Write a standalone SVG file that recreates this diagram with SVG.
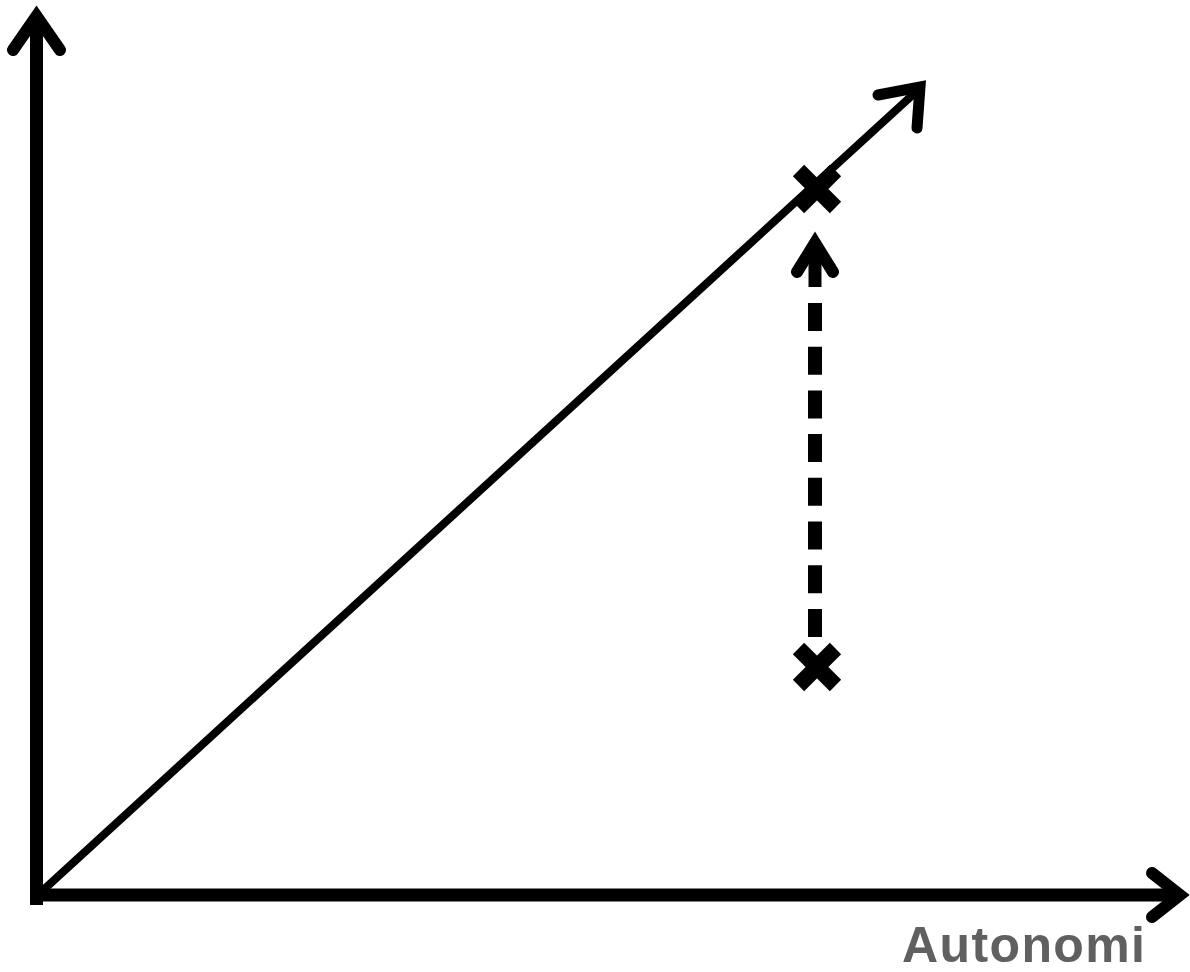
<svg xmlns="http://www.w3.org/2000/svg" width="1190" height="972" viewBox="0 0 1190 972">
<style>
.ax{stroke:#000;stroke-width:13;fill:none}
.head{stroke:#000;stroke-width:12;fill:none;stroke-linecap:round;stroke-linejoin:miter}
.diag{stroke:#000;stroke-width:8;fill:none}
.cross{stroke:#000;stroke-width:16;fill:none;stroke-linecap:butt}
.lbl{font-family:"Liberation Sans",Arial,sans-serif;font-weight:bold;font-size:50px;fill:#606060}
</style>
<rect width="1190" height="972" fill="#fff"/>
<g id="connectors">
<g id="y-axis">
<line class="ax" x1="36.5" y1="18" x2="36.5" y2="905"/>
<path class="head" d="M13,50 L36.5,16 L60,50"/>
</g>
<g id="x-axis">
<line class="ax" x1="30" y1="895" x2="1178" y2="895"/>
<path class="head" d="M1152,873 L1180,895 L1152,917"/>
</g>
<g id="diagonal">
<line class="diag" x1="40" y1="893" x2="918" y2="90"/>
<path class="head" style="stroke-width:11" d="M878,95 L920,87 L917,128"/>
</g>
<g id="dashed-arrow">
<line x1="815" y1="303" x2="815" y2="637" stroke="#000" stroke-width="14" stroke-dasharray="28 15.7"/>
<line x1="815" y1="246" x2="815" y2="287" stroke="#000" stroke-width="13"/>
<path class="head" d="M797,272 L815,243 L833,272"/>
</g>
</g>
<g id="mark-top">
<path class="cross" d="M798.5,170.5 L835.5,207.5 M835.5,170.5 L798.5,207.5"/>
</g>
<g id="mark-bottom">
<path class="cross" d="M798.5,648.5 L835.5,685.5 M835.5,648.5 L798.5,685.5"/>
</g>
<g id="label">
<text class="lbl" x="902" y="962" textLength="243" lengthAdjust="spacing">Autonomi</text>
</g>
</svg>
